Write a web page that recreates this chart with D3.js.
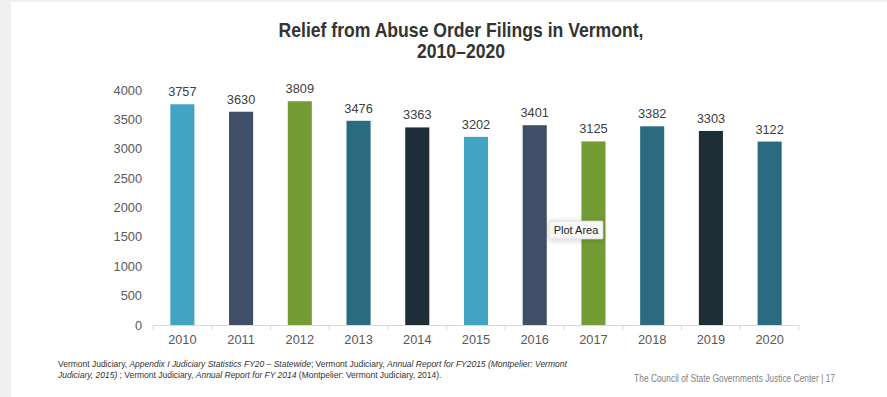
<!DOCTYPE html>
<html>
<head>
<meta charset="utf-8">
<script src="https://cdn.jsdelivr.net/npm/d3@7"></script>
<style>
  html, body { margin: 0; padding: 0; background: #f0f0f0; }
  svg { display: block; }
</style>
</head>
<body>
<svg id="chart" width="887" height="397"></svg>
<script>
// Relief from Abuse order filings, Vermont, by year
const years = ["2010","2011","2012","2013","2014","2015","2016","2017","2018","2019","2020"];
const filings = [3757, 3630, 3809, 3476, 3363, 3202, 3401, 3125, 3382, 3303, 3122];
const barColors = ["#42a3c2","#404f67","#749c35","#2a6b80","#1e2d36","#42a3c2","#404f67","#749c35","#2a6b80","#1e2d36","#2a6b80"];
const yTicks = [0, 500, 1000, 1500, 2000, 2500, 3000, 3500, 4000];

const svg = d3.select("#chart");

// slide background
svg.append("rect").attr("x", 11).attr("y", 2).attr("width", 876).attr("height", 395).attr("fill", "#ffffff");

const plot = { left: 153, right: 799, top: 90, bottom: 325 };

const x = d3.scaleBand().domain(years).range([plot.left, plot.right]).paddingInner(0.59).paddingOuter(0.295);
const band = d3.scaleBand().domain(years).range([plot.left, plot.right]);
const y = d3.scaleLinear().domain([0, 4000]).range([plot.bottom, plot.top]);

// condensed text helper: narrows a text group horizontally around an anchor point
function narrow(sel, cx, cy, sx) {
  return sel.attr("transform", `translate(${cx},${cy}) scale(${sx},1)`);
}

// title
const title = narrow(svg.append("text"), 461, 0, 0.88)
  .attr("text-anchor", "middle")
  .attr("font-family", "'Liberation Sans', Arial, sans-serif")
  .attr("font-weight", "bold").attr("font-size", 20).attr("fill", "#333333");
title.append("tspan").attr("x", 0).attr("y", 37).text("Relief from Abuse Order Filings in Vermont,");
title.append("tspan").attr("x", 0).attr("y", 58).text("2010\u20132020");

// y axis (labels only)
const yAxis = svg.append("g")
  .attr("transform", `translate(${plot.left - 11},0)`)
  .call(d3.axisLeft(y).tickValues(yTicks).tickSize(0).tickPadding(0).tickFormat(d3.format("d")));
yAxis.select(".domain").remove();
yAxis.selectAll("text")
  .attr("font-family", "'Liberation Sans', Arial, sans-serif")
  .attr("font-size", 12.8).attr("fill", "#595959");

// bars
svg.append("g").selectAll("rect")
  .data(years)
  .join("rect")
  .attr("x", d => x(d))
  .attr("width", x.bandwidth())
  .attr("y", (d, i) => y(filings[i]))
  .attr("height", (d, i) => y(0) - y(filings[i]))
  .attr("fill", (d, i) => barColors[i]);

// value labels
svg.append("g").selectAll("text")
  .data(years)
  .join("text")
  .attr("x", d => x(d) + x.bandwidth() / 2)
  .attr("y", (d, i) => y(filings[i]) - 8)
  .attr("text-anchor", "middle")
  .attr("font-family", "'Liberation Sans', Arial, sans-serif")
  .attr("font-size", 12.8).attr("fill", "#404040")
  .text((d, i) => filings[i]);

// x axis with category dividers
const xAxis = svg.append("g")
  .attr("transform", `translate(0,${plot.bottom})`)
  .call(d3.axisBottom(band).tickSize(0).tickPadding(10));
xAxis.select(".domain").attr("stroke", "#d9d9d9").attr("stroke-width", 1);
xAxis.selectAll("text")
  .attr("font-family", "'Liberation Sans', Arial, sans-serif")
  .attr("font-size", 12.8).attr("fill", "#595959");
svg.append("g").selectAll("line")
  .data(years.concat(["end"]))
  .join("line")
  .attr("x1", (d, i) => plot.left + i * band.step())
  .attr("x2", (d, i) => plot.left + i * band.step())
  .attr("y1", plot.bottom).attr("y2", plot.bottom + 5)
  .attr("stroke", "#d9d9d9").attr("stroke-width", 1);

// hover tag over the plot area
const defs = svg.append("defs");
const f = defs.append("filter").attr("id", "tagShadow").attr("x", "-50%").attr("y", "-100%").attr("width", "200%").attr("height", "300%");
f.append("feDropShadow").attr("dx", 0).attr("dy", 1).attr("stdDeviation", 3).attr("flood-color", "#000").attr("flood-opacity", 0.18);
svg.append("rect").attr("x", 549).attr("y", 221).attr("width", 54).attr("height", 18)
  .attr("fill", "#f7f7f7").attr("stroke", "#cfcfcf").attr("stroke-width", 0.6).attr("rx", 1)
  .attr("filter", "url(#tagShadow)");
svg.append("text").attr("x", 576).attr("y", 234).attr("text-anchor", "middle")
  .attr("font-family", "'Liberation Sans', Arial, sans-serif").attr("font-size", 11).attr("fill", "#222")
  .text("Plot Area");

// source note
const note = narrow(svg.append("text"), 58, 0, 0.96)
  .attr("font-family", "'Liberation Sans', Arial, sans-serif")
  .attr("font-size", 8.85).attr("fill", "#333");
const l1 = note.append("tspan").attr("x", 0).attr("y", 367);
l1.append("tspan").text("Vermont Judiciary, ");
l1.append("tspan").attr("font-style", "italic").text("Appendix I Judiciary Statistics FY20 \u2013 Statewide");
l1.append("tspan").text("; Vermont Judiciary, ");
l1.append("tspan").attr("font-style", "italic").text("Annual Report for FY2015 (Montpelier: Vermont");
const l2 = note.append("tspan").attr("x", 0).attr("y", 378);
l2.append("tspan").attr("font-style", "italic").text("Judiciary, 2015)");
l2.append("tspan").text(" ; Vermont Judiciary, ");
l2.append("tspan").attr("font-style", "italic").text("Annual Report for FY 2014");
l2.append("tspan").text(" (Montpelier: Vermont Judiciary, 2014).");

narrow(svg.append("text"), 835, 382, 0.8)
  .attr("text-anchor", "end")
  .attr("font-family", "'Liberation Sans', Arial, sans-serif")
  .attr("font-size", 10.5).attr("fill", "#7f7f7f")
  .text("The Council of State Governments Justice Center | 17");
</script>
</body>
</html>
